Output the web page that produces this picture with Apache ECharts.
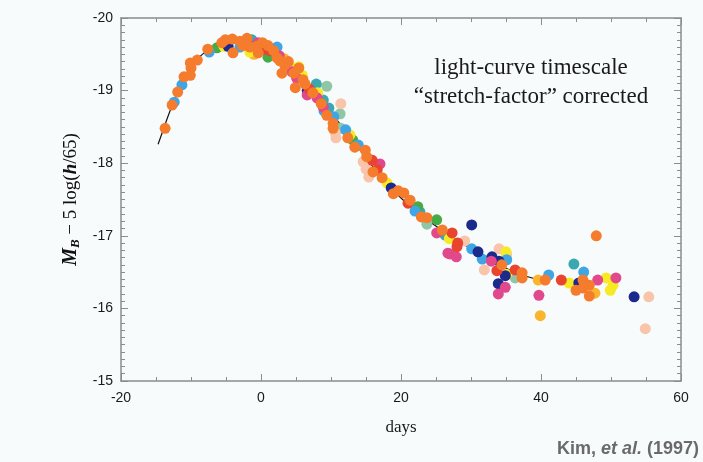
<!DOCTYPE html>
<html><head><meta charset="utf-8">
<script src="https://cdn.jsdelivr.net/npm/echarts@6/dist/echarts.min.js"></script>
<style>html,body{margin:0;padding:0;background:#f8fbfc}#c{width:703px;height:462px}</style>
</head><body><div id="c"></div>
<script>
// x: days, y: M_B - 5 log(h/65)
const xTicks = [-20, 0, 20, 40, 60];
const yTicks = [-20, -19, -18, -17, -16, -15];

const curveDays = [-14.7,-14,-13,-12,-11,-10,-9,-8,-7,-6,-5,-4,-3,-2,-1,0,2,4,6,8,10,12,14,16,18,20,22,24,26,28,30,32,34,36,38,40];
const curveMags = [-18.26,-18.45,-18.72,-18.95,-19.15,-19.32,-19.44,-19.53,-19.59,-19.63,-19.65,-19.66,-19.65,-19.63,-19.61,-19.57,-19.50,-19.36,-19.17,-18.95,-18.70,-18.45,-18.20,-17.95,-17.72,-17.52,-17.35,-17.20,-17.07,-16.94,-16.82,-16.70,-16.60,-16.51,-16.44,-16.39];

const orangePts = [[-13.7,-18.48],[-12.7,-18.80],[-11.9,-18.98],[-11.0,-19.19],[-10.0,-19.31],[-10.1,-19.38],[-9.1,-19.42],[-7.6,-19.57],[-5.1,-19.70],[-4.1,-19.71],[-4.0,-19.52],[-2.0,-19.72],[-1.6,-19.60],[-0.6,-19.61],[-0.4,-19.52],[2.3,-19.45],[2.7,-19.41],[3.4,-19.35],[3.0,-19.24],[4.7,-19.24],[5.4,-19.31],[4.9,-19.04],[6.3,-19.09],[7.4,-18.97],[9.4,-18.66],[10.3,-18.55],[10.3,-18.48],[13.4,-18.22],[14.9,-18.18],[15.1,-18.09],[16.0,-17.88],[18.9,-17.58],[20.4,-17.59],[21.3,-17.49],[22.9,-17.26],[23.7,-17.25],[25.9,-17.08],[34.4,-16.60],[37.3,-16.49],[37.3,-16.42],[40.6,-16.39],[47.9,-17.00],[46.0,-16.39],[46.9,-16.32],[45.0,-16.25],[46.0,-16.28],[46.9,-16.17],[-10.1,-19.21],[-3.0,-19.68],[1.0,-19.62],[-5.6,-19.66],[-2.6,-19.62],[0.2,-19.66],[1.8,-19.55],[3.9,-19.40],[6.0,-19.15],[8.6,-18.82],[12.4,-18.35],[17.3,-17.80],[19.6,-17.62]];
const bluePts = [[-12.4,-18.84],[-11.3,-19.08],[-7.4,-19.53],[-3.0,-19.60],[2.3,-19.60],[10.4,-18.64],[12.1,-18.46],[13.9,-18.25],[22.0,-17.34],[30.1,-16.82],[31.6,-16.68],[35.1,-16.67],[41.1,-16.46],[46.1,-16.50],[0.0,-19.58],[9.0,-18.72]];
const navyPts = [[-4.7,-19.61],[6.6,-19.00],[18.6,-17.66],[30.1,-17.15],[31.0,-16.78],[33.0,-16.71],[34.0,-16.65],[34.9,-16.45],[33.9,-16.34],[45.4,-16.35],[53.3,-16.16]];
const pinkPts = [[-0.4,-19.66],[4.4,-19.26],[5.1,-19.17],[6.6,-18.94],[8.0,-18.90],[8.9,-18.77],[17.0,-17.99],[25.1,-17.04],[26.7,-16.76],[27.0,-16.75],[27.9,-16.71],[32.9,-16.65],[34.9,-16.29],[33.9,-16.20],[39.7,-16.18],[48.1,-16.39],[50.7,-16.42],[2.6,-19.48]];
const redPts = [[0.6,-19.57],[1.3,-19.55],[15.9,-18.04],[16.6,-17.91],[21.0,-17.45],[27.3,-17.04],[28.1,-16.90],[28.0,-16.85],[33.7,-16.52],[36.3,-16.53],[42.9,-16.39],[-1.9,-19.64],[6.9,-19.02]];
const yellowPts = [[-5.3,-19.61],[-1.6,-19.53],[4.1,-19.34],[5.9,-19.21],[5.4,-19.33],[8.1,-18.97],[12.7,-18.39],[18.0,-17.73],[26.9,-16.96],[35.0,-16.78],[35.1,-16.47],[44.0,-16.35],[49.3,-16.42],[50.3,-16.32],[49.9,-16.25]];
const goldPts = [[39.9,-15.90],[47.7,-16.21],[39.6,-16.39],[-1.0,-19.50],[3.3,-19.44]];
const greenPts = [[-6.3,-19.59],[1.0,-19.46],[13.1,-18.32],[22.4,-17.40],[25.1,-17.22]];
const tealPts = [[-1.3,-19.70],[1.7,-19.49],[7.9,-19.09],[8.9,-18.87],[9.7,-18.76],[22.7,-17.33],[26.3,-17.01],[44.7,-16.61]];
const sagePts = [[9.4,-19.06],[11.3,-18.68],[11.4,-18.48],[23.7,-17.16],[36.3,-16.42]];
const peachPts = [[11.4,-18.82],[10.7,-18.35],[14.6,-18.02],[15.4,-17.81],[29.1,-16.93],[35.1,-16.74],[34.0,-16.82],[31.9,-16.53],[55.4,-16.16],[54.9,-15.72],[10.6,-18.42],[15.0,-17.92]];

const groups = [
  [sagePts,'#8ec6a6'],[peachPts,'#f8c4aa'],[tealPts,'#3aa8ae'],[greenPts,'#46aa46'],
  [goldPts,'#f9b52c'],[yellowPts,'#f6ea24'],[bluePts,'#3ea6e6'],[navyPts,'#1c2a8c'],
  [pinkPts,'#e2488c'],[redPts,'#e8442e'],[orangePts,'#f47c2c']
];

const axisGray = '#8c8c8c';
const labelFont = {fontFamily:'Liberation Sans', fontSize:14, color:'#1a1a1a'};
const serif = 'Liberation Serif';

const chart = echarts.init(document.getElementById('c'), null, {renderer:'canvas'});
const series = groups.map(([pts,color]) => ({
  type:'scatter', data:pts, symbolSize:11, itemStyle:{color:color, opacity:1}, z:3
}));
series.unshift({
  type:'line', data:curveDays.map((d,i)=>[d,curveMags[i]]), showSymbol:false, smooth:true,
  lineStyle:{color:'#111', width:1.2}, z:2
});

function xAx(pos, show){
  return {type:'value', position:pos, min:-20, max:60, interval:20,
    axisLine:{show:true, onZero:false, lineStyle:{color:axisGray, width:1.5}},
    axisTick:{show:true, inside:true, length:7, lineStyle:{color:axisGray}},
    minorTick:{show:true, splitNumber:4, length:4, lineStyle:{color:axisGray}},
    axisLabel:Object.assign({show:show, margin:10}, labelFont),
    splitLine:{show:false},
    name: show ? 'days' : '', nameLocation:'middle', nameGap:38,
    nameTextStyle:{fontFamily:serif, fontSize:17, color:'#1a1a1a'}};
}
function yAx(pos, show){
  return {type:'value', position:pos, min:-20, max:-15, interval:1, inverse:true,
    axisLine:{show:true, onZero:false, lineStyle:{color:axisGray, width:1.5}},
    axisTick:{show:true, inside:true, length:7, lineStyle:{color:axisGray}},
    minorTick:{show:true, splitNumber:10, length:4, lineStyle:{color:axisGray}},
    axisLabel:Object.assign({show:show, margin:8}, labelFont),
    splitLine:{show:false},
    name: show ? '{mb|M}{sub|B}{n| − 5 log(}{h|h}{n|/65)}' : '',
    nameLocation:'middle', nameGap:38, nameRotate:90,
    nameTextStyle:{rich:{
      mb:{fontFamily:serif, fontSize:20, fontWeight:'bold', fontStyle:'italic', color:'#111', lineHeight:22},
      sub:{fontFamily:serif, fontSize:13, fontWeight:'bold', fontStyle:'italic', color:'#111', lineHeight:12, verticalAlign:'bottom'},
      n:{fontFamily:serif, fontSize:19, color:'#111', lineHeight:22},
      h:{fontFamily:serif, fontSize:19, fontWeight:'bold', fontStyle:'italic', color:'#111', lineHeight:22}
    }}};
}

chart.setOption({
  backgroundColor:'#f8fbfc',
  animation:false,
  grid:{left:121, right:22, top:18, bottom:81},
  xAxis:[xAx('bottom', true), xAx('top', false)],
  yAxis:[yAx('left', true), yAx('right', false)],
  series: series,
  graphic:[
    {type:'text', x:531, y:68, style:{text:'light-curve timescale', fontFamily:serif, fontSize:23, fill:'#1a1a1a', textAlign:'center', textVerticalAlign:'middle'}},
    {type:'text', x:531, y:97, style:{text:'\u201cstretch-factor\u201d corrected', fontFamily:serif, fontSize:23, fill:'#1a1a1a', textAlign:'center', textVerticalAlign:'middle'}},
    {type:'text', x:699, y:449, style:{text:'{b|Kim, }{i|et al.}{b| (1997)}', textAlign:'right', textVerticalAlign:'middle',
      rich:{b:{fontFamily:'Liberation Sans', fontSize:18, fontWeight:'bold', fill:'#6a6a6a'},
            i:{fontFamily:'Liberation Sans', fontSize:18, fontWeight:'bold', fontStyle:'italic', fill:'#6a6a6a'}}}}
  ]
});
</script></body></html>
